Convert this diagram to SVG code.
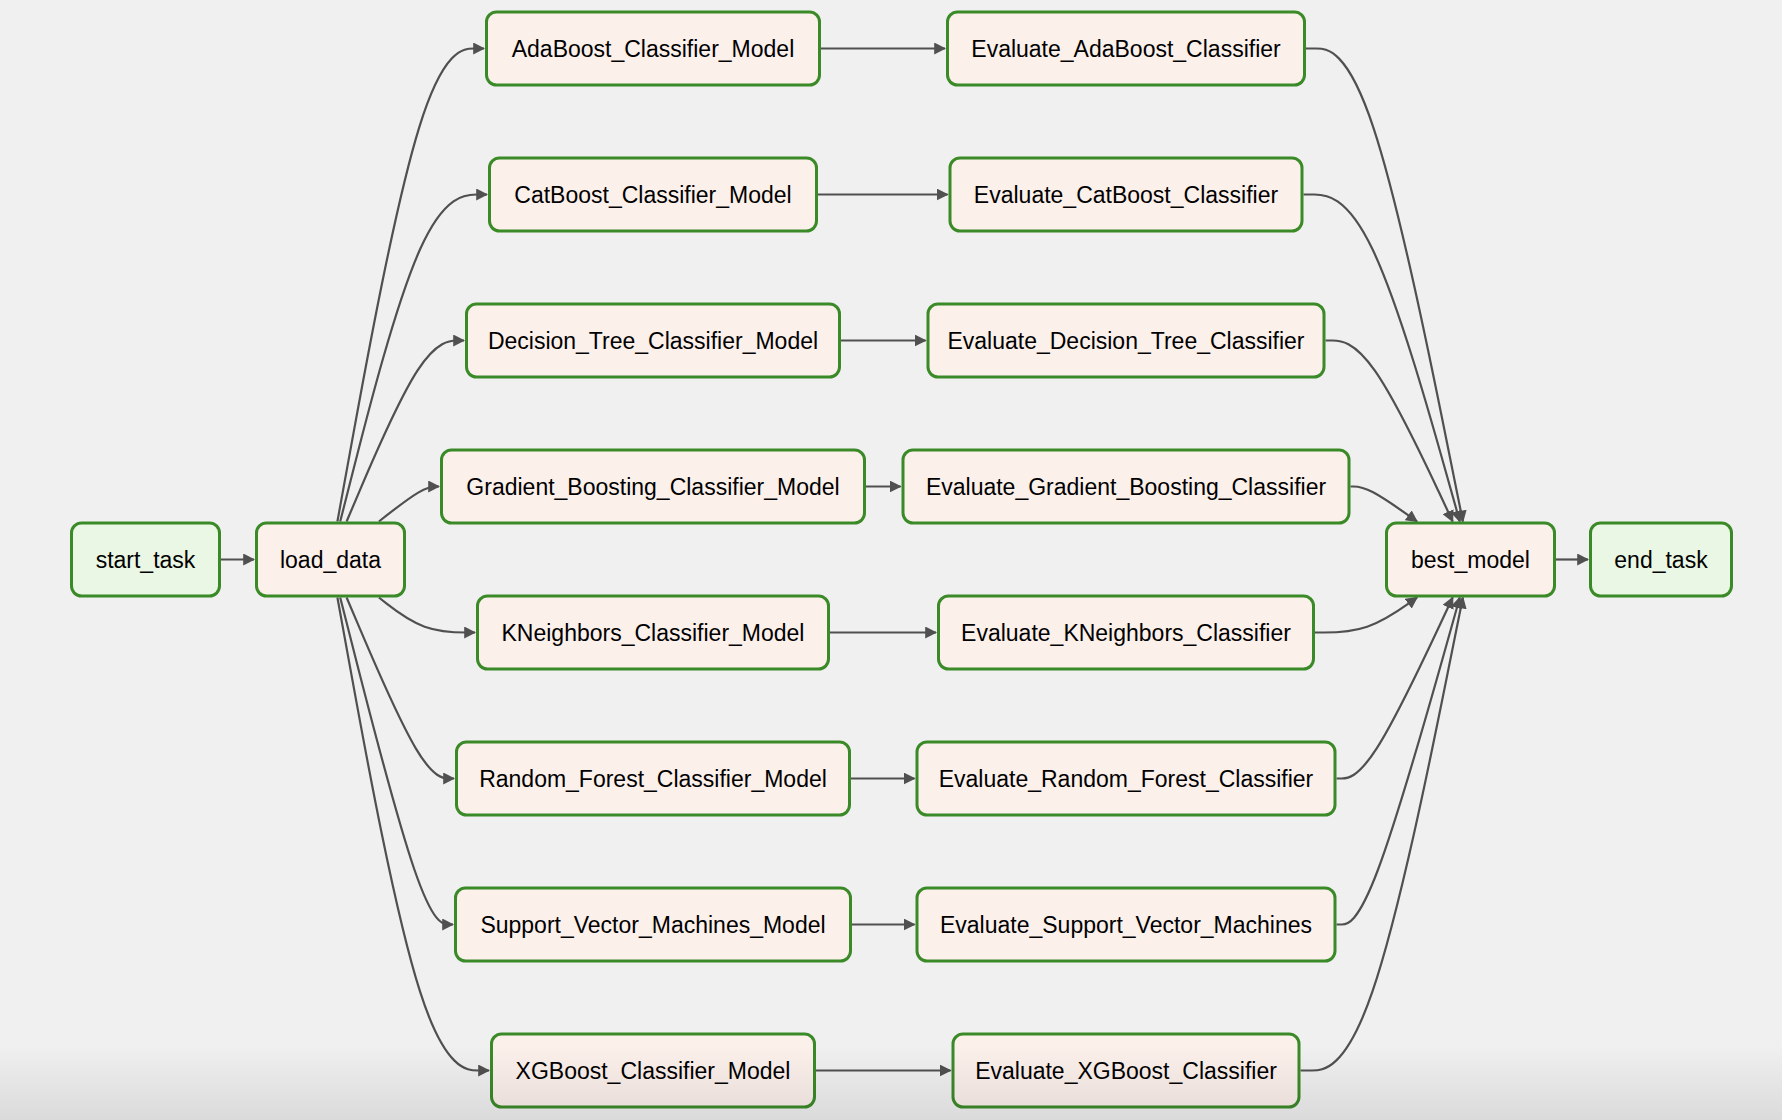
<svg xmlns="http://www.w3.org/2000/svg" width="1782" height="1120" viewBox="0 0 1782 1120">
<style>
.bg{fill:#f0f0f0}
.n rect{stroke:#3b8a28;stroke-width:3}
.py rect{fill:#fcf0eb}
.em rect{fill:#e9f7e4}
.n text{font-family:"Liberation Sans",Arial,Helvetica,sans-serif;font-size:23px;fill:#000;text-anchor:middle}
#edges path{fill:none;stroke:#505050;stroke-width:2.2;marker-end:url(#arr)}
</style>
<defs>
<marker id="arr" viewBox="0 0 10 10" refX="9" refY="5" markerUnits="userSpaceOnUse" markerWidth="12" markerHeight="12" orient="auto">
<path d="M0,0 L10,5 L0,10 z" fill="#505050"/>
</marker>
<linearGradient id="shade" x1="0" y1="0" x2="0" y2="1">
<stop offset="0" stop-color="#000" stop-opacity="0"/>
<stop offset="1" stop-color="#000" stop-opacity="0.09"/>
</linearGradient>
</defs>
<rect class="bg" x="0" y="0" width="1782" height="1120"/>
<g id="edges">
<path d="M221,559.5 L254,559.5"/>
<path d="M337.4,521.5 L351.75,442.67 C366.1,363.83 394.8,206.17 419.23,127.33 C443.67,48.5 463.83,48.5 473.92,48.5 L484,48.5"/>
<path d="M340.2,521.5 L354.08,467 C367.97,412.5 395.73,303.5 420.2,249 C444.67,194.5 465.83,194.5 476.42,194.5 L487,194.5"/>
<path d="M346.6,521.5 L359.42,491.33 C372.23,461.17 397.87,400.83 417.43,370.67 C437,340.5 450.5,340.5 457.25,340.5 L464,340.5"/>
<path d="M378.9,521.5 L386.33,515.67 C393.77,509.83 408.63,498.17 418.65,492.33 C428.67,486.5 433.83,486.5 436.42,486.5 L439,486.5"/>
<path d="M378.9,597.5 L386.33,603.33 C393.77,609.17 408.63,620.83 424.65,626.67 C440.67,632.5 457.83,632.5 466.42,632.5 L475,632.5"/>
<path d="M346.6,597.5 L359.42,627.67 C372.23,657.83 397.87,718.17 415.77,748.33 C433.67,778.5 443.83,778.5 448.92,778.5 L454,778.5"/>
<path d="M340.2,597.5 L354.08,652 C367.97,706.5 395.73,815.5 414.53,870 C433.33,924.5 443.17,924.5 448.08,924.5 L453,924.5"/>
<path d="M337.4,597.5 L351.75,676.33 C366.1,755.17 394.8,912.83 420.07,991.67 C445.33,1070.5 467.17,1070.5 478.08,1070.5 L489,1070.5"/>
<path d="M821,48.5 L945,48.5"/>
<path d="M818,194.5 L947.5,194.5"/>
<path d="M841,340.5 L925.5,340.5"/>
<path d="M866,486.5 L900.5,486.5"/>
<path d="M830,632.5 L936,632.5"/>
<path d="M851,778.5 L914.5,778.5"/>
<path d="M852,924.5 L914.5,924.5"/>
<path d="M816,1070.5 L950.5,1070.5"/>
<path d="M1306,48.5 L1316.29,48.5 C1326.58,48.5 1347.17,48.5 1373.31,127.33 C1399.45,206.17 1431.16,363.83 1447.01,442.67 L1462.86,521.5"/>
<path d="M1303.5,194.5 L1314.21,194.5 C1324.92,194.5 1346.33,194.5 1372.38,249 C1398.43,303.5 1429.12,412.5 1444.46,467 L1459.8,521.5"/>
<path d="M1325.5,340.5 L1332.54,340.5 C1339.58,340.5 1353.67,340.5 1374.86,370.67 C1396.06,400.83 1424.36,461.17 1438.52,491.33 L1452.67,521.5"/>
<path d="M1350.5,486.5 L1353.38,486.5 C1356.25,486.5 1362,486.5 1373.09,492.33 C1384.17,498.17 1400.59,509.83 1408.8,515.67 L1417.01,521.5"/>
<path d="M1315,632.5 L1323.79,632.5 C1332.58,632.5 1350.17,632.5 1367.17,626.67 C1384.17,620.83 1400.59,609.17 1408.8,603.33 L1417.01,597.5"/>
<path d="M1336.5,778.5 L1341.71,778.5 C1346.92,778.5 1357.33,778.5 1376.7,748.33 C1396.06,718.17 1424.36,657.83 1438.52,627.67 L1452.67,597.5"/>
<path d="M1336.5,924.5 L1341.71,924.5 C1346.92,924.5 1357.33,924.5 1377.88,870 C1398.43,815.5 1429.12,706.5 1444.46,652 L1459.8,597.5"/>
<path d="M1300.5,1070.5 L1311.71,1070.5 C1322.92,1070.5 1345.33,1070.5 1372.39,991.67 C1399.45,912.83 1431.16,755.17 1447.01,676.33 L1462.86,597.5"/>
<path d="M1556,559.5 L1588,559.5"/>
</g>
<g id="start_task" class="n em"><rect x="71.5" y="523" width="148" height="73" rx="10"/><text x="145.5" y="567.5">start_task</text></g>
<g id="load_data" class="n py"><rect x="256.5" y="523" width="148" height="73" rx="10"/><text x="330.5" y="567.5">load_data</text></g>
<g id="AdaBoost_Classifier_Model" class="n py"><rect x="486.5" y="12" width="333" height="73" rx="10"/><text x="653" y="56.5">AdaBoost_Classifier_Model</text></g>
<g id="CatBoost_Classifier_Model" class="n py"><rect x="489.5" y="158" width="327" height="73" rx="10"/><text x="653" y="202.5">CatBoost_Classifier_Model</text></g>
<g id="Decision_Tree_Classifier_Model" class="n py"><rect x="466.5" y="304" width="373" height="73" rx="10"/><text x="653" y="348.5">Decision_Tree_Classifier_Model</text></g>
<g id="Gradient_Boosting_Classifier_Model" class="n py"><rect x="441.5" y="450" width="423" height="73" rx="10"/><text x="653" y="494.5">Gradient_Boosting_Classifier_Model</text></g>
<g id="KNeighbors_Classifier_Model" class="n py"><rect x="477.5" y="596" width="351" height="73" rx="10"/><text x="653" y="640.5">KNeighbors_Classifier_Model</text></g>
<g id="Random_Forest_Classifier_Model" class="n py"><rect x="456.5" y="742" width="393" height="73" rx="10"/><text x="653" y="786.5">Random_Forest_Classifier_Model</text></g>
<g id="Support_Vector_Machines_Model" class="n py"><rect x="455.5" y="888" width="395" height="73" rx="10"/><text x="653" y="932.5">Support_Vector_Machines_Model</text></g>
<g id="XGBoost_Classifier_Model" class="n py"><rect x="491.5" y="1034" width="323" height="73" rx="10"/><text x="653" y="1078.5">XGBoost_Classifier_Model</text></g>
<g id="Evaluate_AdaBoost_Classifier" class="n py"><rect x="947.5" y="12" width="357" height="73" rx="10"/><text x="1126" y="56.5">Evaluate_AdaBoost_Classifier</text></g>
<g id="Evaluate_CatBoost_Classifier" class="n py"><rect x="950" y="158" width="352" height="73" rx="10"/><text x="1126" y="202.5">Evaluate_CatBoost_Classifier</text></g>
<g id="Evaluate_Decision_Tree_Classifier" class="n py"><rect x="928" y="304" width="396" height="73" rx="10"/><text x="1126" y="348.5">Evaluate_Decision_Tree_Classifier</text></g>
<g id="Evaluate_Gradient_Boosting_Classifier" class="n py"><rect x="903" y="450" width="446" height="73" rx="10"/><text x="1126" y="494.5">Evaluate_Gradient_Boosting_Classifier</text></g>
<g id="Evaluate_KNeighbors_Classifier" class="n py"><rect x="938.5" y="596" width="375" height="73" rx="10"/><text x="1126" y="640.5">Evaluate_KNeighbors_Classifier</text></g>
<g id="Evaluate_Random_Forest_Classifier" class="n py"><rect x="917" y="742" width="418" height="73" rx="10"/><text x="1126" y="786.5">Evaluate_Random_Forest_Classifier</text></g>
<g id="Evaluate_Support_Vector_Machines" class="n py"><rect x="917" y="888" width="418" height="73" rx="10"/><text x="1126" y="932.5">Evaluate_Support_Vector_Machines</text></g>
<g id="Evaluate_XGBoost_Classifier" class="n py"><rect x="953" y="1034" width="346" height="73" rx="10"/><text x="1126" y="1078.5">Evaluate_XGBoost_Classifier</text></g>
<g id="best_model" class="n py"><rect x="1386.5" y="523" width="168" height="73" rx="10"/><text x="1470.5" y="567.5">best_model</text></g>
<g id="end_task" class="n em"><rect x="1590.5" y="523" width="141" height="73" rx="10"/><text x="1661" y="567.5">end_task</text></g>
<rect x="0" y="1045" width="1782" height="75" fill="url(#shade)"/>
</svg>
